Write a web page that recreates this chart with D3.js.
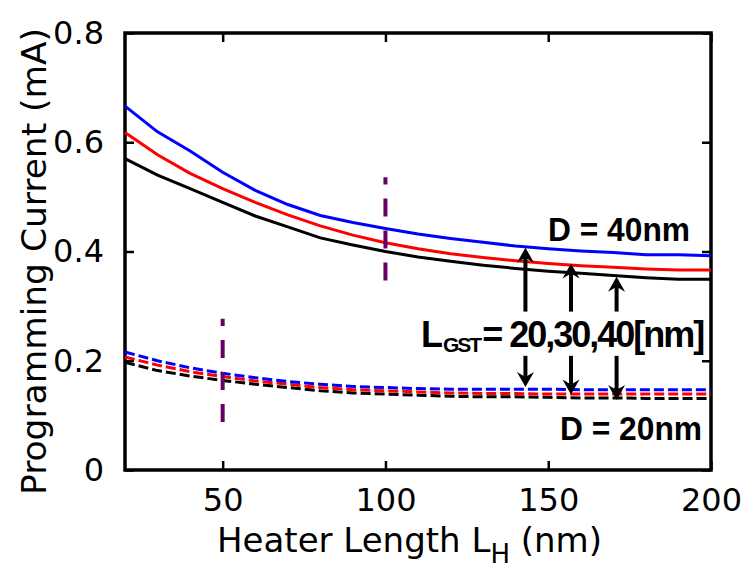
<!DOCTYPE html>
<html>
<head>
<meta charset="utf-8">
<script src="https://cdn.jsdelivr.net/npm/d3@7"></script>
<style>
  html, body { margin: 0; padding: 0; background: #fff; }
  svg { display: block; }
</style>
</head>
<body>
<svg id="chart" width="746" height="569"></svg>
<script>
// Heater length (nm) at which each curve was evaluated
const heaterLength = [20, 30, 40, 50, 60, 70, 80, 90, 100, 110, 120, 130, 140, 150, 160, 170, 180, 190, 200];

// D = 40 nm, L_GST = 20 / 30 / 40 nm (solid)
const d40_gst20 = [0.666, 0.619, 0.584, 0.545, 0.512, 0.486, 0.466, 0.453, 0.442, 0.432, 0.424, 0.417, 0.410, 0.405, 0.401, 0.398, 0.394, 0.394, 0.392];
const d40_gst30 = [0.618, 0.577, 0.543, 0.515, 0.490, 0.467, 0.447, 0.430, 0.416, 0.405, 0.396, 0.389, 0.383, 0.378, 0.374, 0.371, 0.368, 0.366, 0.366];
const d40_gst40 = [0.570, 0.540, 0.515, 0.490, 0.465, 0.445, 0.425, 0.412, 0.400, 0.390, 0.382, 0.375, 0.369, 0.364, 0.360, 0.356, 0.352, 0.349, 0.349];

// D = 20 nm, L_GST = 20 / 30 / 40 nm (dashed)
const d20_gst20 = [0.216, 0.200, 0.187, 0.177, 0.169, 0.162, 0.157, 0.153, 0.151, 0.149, 0.148, 0.148, 0.148, 0.148, 0.147, 0.147, 0.147, 0.147, 0.147];
const d20_gst30 = [0.207, 0.192, 0.180, 0.171, 0.163, 0.157, 0.151, 0.147, 0.145, 0.143, 0.141, 0.140, 0.140, 0.139, 0.139, 0.139, 0.139, 0.139, 0.139];
const d20_gst40 = [0.197, 0.182, 0.172, 0.164, 0.157, 0.151, 0.145, 0.141, 0.139, 0.137, 0.135, 0.134, 0.134, 0.133, 0.132, 0.132, 0.131, 0.131, 0.131];

// Axis ticks
const xTicks = [50, 100, 150, 200];
const yTicks = [0, 0.2, 0.4, 0.6, 0.8];

// Vertical markers: [heater length, lower current, upper current]
const markers = [[100, 0.347, 0.536], [50, 0.088, 0.277]];

// Annotation arrows: x position, upper tips, lower tips and the shared tail levels
const arrowX = [143, 157, 171];
const arrowUpTip = [0.407, 0.378, 0.354];
const arrowDownTip = [0.152, 0.138, 0.128];
const arrowUpTail = 0.29;
const arrowDownTail = 0.209;

const svg = d3.select("#chart");
const plot = { left: 125, right: 711, top: 33, bottom: 470 };

const x = d3.scaleLinear().domain([20, 200]).range([plot.left, plot.right]);
const y = d3.scaleLinear().domain([0, 0.8]).range([plot.bottom, plot.top]);

const tickFont = "'DejaVu Sans', Verdana, sans-serif";

// Frame
svg.append("rect")
  .attr("x", plot.left).attr("y", plot.top)
  .attr("width", plot.right - plot.left).attr("height", plot.bottom - plot.top)
  .attr("fill", "none").attr("stroke", "#000").attr("stroke-width", 3.5);

// Axes with inward ticks on all four sides
function styleAxis(g) {
  g.select(".domain").remove();
  g.selectAll(".tick line").attr("stroke", "#000").attr("stroke-width", 2.5);
  g.selectAll(".tick text").attr("font-family", tickFont).attr("font-size", 32).attr("fill", "#000");
}
const yFmt = d => d === 0 ? "0" : d3.format(".1f")(d);

svg.append("g").attr("transform", `translate(0,${plot.bottom})`)
  .call(d3.axisBottom(x).tickValues(xTicks).tickSizeInner(-9).tickSizeOuter(0).tickPadding(18))
  .call(styleAxis);
svg.append("g").attr("transform", `translate(0,${plot.top})`)
  .call(d3.axisTop(x).tickValues(xTicks).tickSizeInner(-9).tickSizeOuter(0).tickFormat(""))
  .call(styleAxis);
svg.append("g").attr("transform", `translate(${plot.left},0)`)
  .call(d3.axisLeft(y).tickValues(yTicks).tickSizeInner(-9).tickSizeOuter(0).tickPadding(21).tickFormat(yFmt))
  .call(styleAxis);
svg.append("g").attr("transform", `translate(${plot.right},0)`)
  .call(d3.axisRight(y).tickValues(yTicks).tickSizeInner(-9).tickSizeOuter(0).tickFormat(""))
  .call(styleAxis);

// Axis titles
const xTitle = svg.append("text")
  .attr("x", 217).attr("y", 552)
  .attr("font-family", tickFont).attr("font-size", 34).attr("fill", "#000");
xTitle.append("tspan").text("Heater Length L");
xTitle.append("tspan").attr("font-size", 26).attr("dy", 11).text("H");
xTitle.append("tspan").attr("dy", -11).text(" (nm)");

svg.append("text")
  .attr("transform", `translate(46,${(28 + 495) / 2}) rotate(-90)`)
  .attr("text-anchor", "middle")
  .attr("font-family", tickFont).attr("font-size", 34).attr("fill", "#000")
  .attr("textLength", 467).attr("lengthAdjust", "spacingAndGlyphs")
  .text("Programming Current (mA)");

// Curves
const line = d3.line().x((d, i) => x(heaterLength[i])).y(d => y(d));
const series = [
  { v: d20_gst40, c: "#000000", dash: "10,4" },
  { v: d20_gst30, c: "#ff0000", dash: "10,4" },
  { v: d20_gst20, c: "#0000ff", dash: "10,4" },
  { v: d40_gst40, c: "#000000", dash: null },
  { v: d40_gst30, c: "#ff0000", dash: null },
  { v: d40_gst20, c: "#0000ff", dash: null }
];
svg.append("g").selectAll("path").data(series).join("path")
  .attr("d", s => line(s.v))
  .attr("fill", "none")
  .attr("stroke", s => s.c)
  .attr("stroke-width", 3)
  .attr("stroke-dasharray", s => s.dash);

// Vertical dashed markers (drawn bottom-up)
svg.append("g").selectAll("line").data(markers).join("line")
  .attr("x1", d => x(d[0])).attr("x2", d => x(d[0]))
  .attr("y1", d => y(d[1])).attr("y2", d => y(d[2]))
  .attr("stroke", "#660066").attr("stroke-width", 4)
  .attr("stroke-dasharray", "18,14");

// Arrows
function arrow(g, x0, yTail, yTip) {
  const dir = yTip < yTail ? -1 : 1; // -1 points up
  const len = 15, half = 8.5, notch = 10;
  g.append("line")
    .attr("x1", x0).attr("x2", x0)
    .attr("y1", yTail).attr("y2", yTip - dir * notch)
    .attr("stroke", "#000").attr("stroke-width", 4);
  g.append("path")
    .attr("d", `M${x0},${yTip} L${x0 - half},${yTip - dir * len} L${x0},${yTip - dir * notch} L${x0 + half},${yTip - dir * len} Z`)
    .attr("fill", "#000");
}
const ag = svg.append("g");
arrowX.forEach((ax, i) => {
  arrow(ag, x(ax), y(arrowUpTail), y(arrowUpTip[i]));
  arrow(ag, x(ax), y(arrowDownTail), y(arrowDownTip[i]));
});

// Annotations
const boldFont = "'Liberation Sans', Arial, sans-serif";
function label(xp, yp, txt, size, len) {
  const t = svg.append("text")
    .attr("x", xp).attr("y", yp)
    .attr("font-family", boldFont).attr("font-weight", "bold")
    .attr("font-size", size).attr("fill", "#000")
    .text(txt);
  if (len) t.attr("textLength", len).attr("lengthAdjust", "spacingAndGlyphs");
  return t;
}
label(548, 241, "D = 40nm", 33, 142);
label(560, 440, "D = 20nm", 33, 142);

// L_GST = 20,30,40[nm]
const lg = svg.append("text")
  .attr("x", 421).attr("y", 347)
  .attr("font-family", boldFont).attr("font-weight", "bold")
  .attr("font-size", 36).attr("fill", "#000");
lg.append("tspan").text("L");
lg.append("tspan").attr("font-size", 21).attr("dy", 5)
  .attr("letter-spacing", -2).text("GST");
lg.append("tspan").attr("dy", -5).attr("dx", 2).attr("letter-spacing", -2).text("= 20,30,40[nm]");
</script>
</body>
</html>
